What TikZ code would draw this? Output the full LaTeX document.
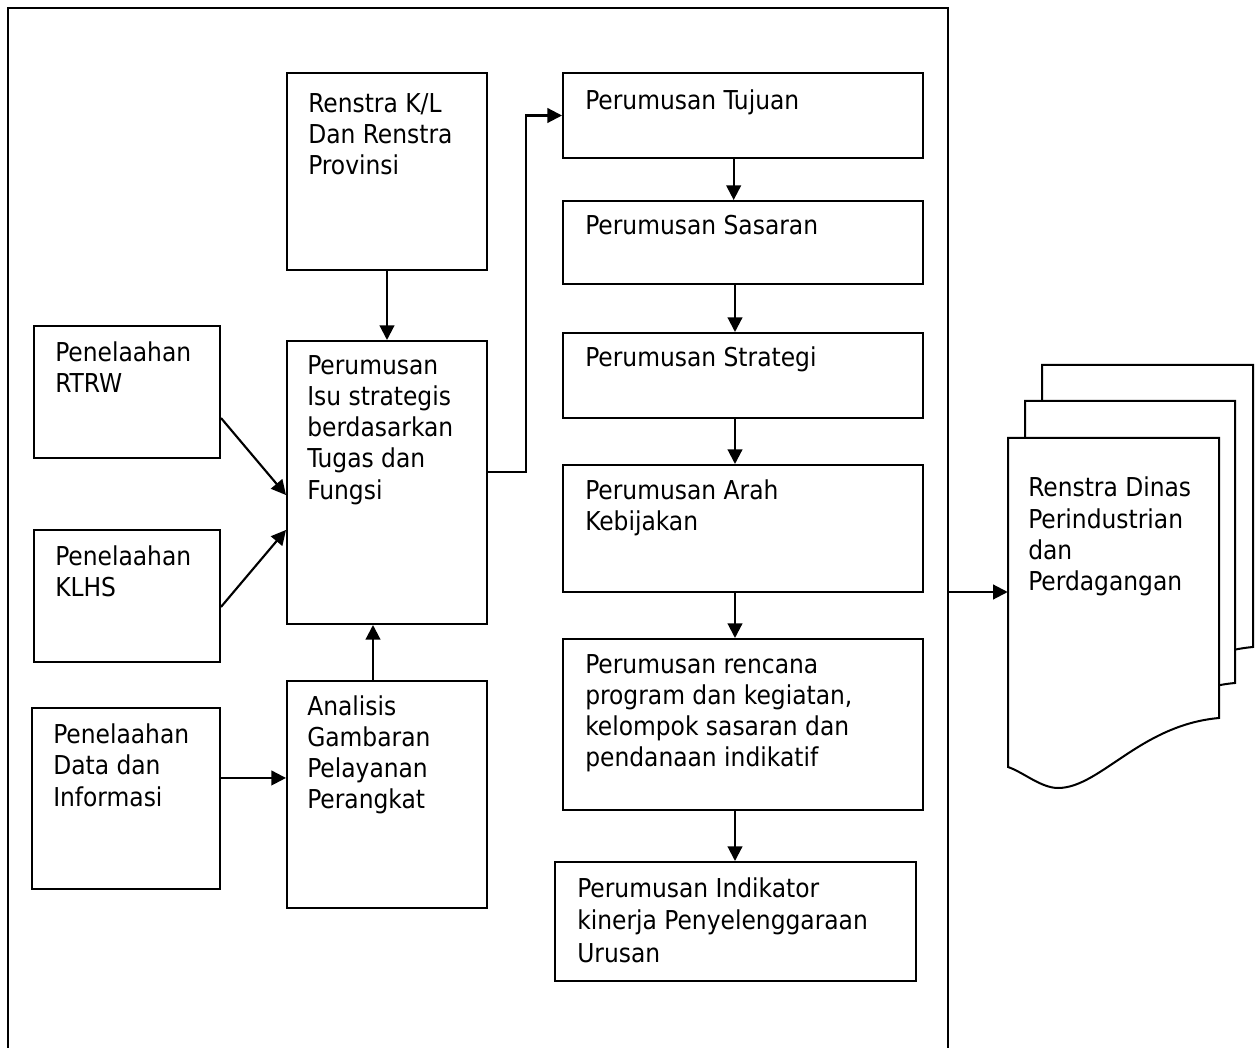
\documentclass[tikz,border=0pt]{standalone}
\usepackage{fontspec}
\setmainfont{DejaVu Sans Condensed}
\usetikzlibrary{arrows.meta,fit,calc}
\tikzset{
  box/.style={draw, line width=1.5pt, inner sep=0pt},
  txt/.style={inner sep=0pt, anchor=base west, font=\fontsize{19.5}{23}\selectfont},
  arr/.style={line width=1.6pt, -{Triangle[length=11pt,width=11pt]}},
  frame/.style={line width=1.6pt},
  docst/.style={draw, fill=white, line width=1.5pt, line join=miter},
}
\newcommand\boxtext[5]{\foreach \t [count=\i] in {#5} {\node[txt] (#1-\i) at ({#2},{#3+(\i-1)*#4}) {\t};}}
\newcommand\docshape[4]{%
  \filldraw[docst] (#1,#2) -- (#3,#2) -- (#3,#4)
    .. controls ({#3-79},{#4+7}) and ({#1+92},{#4+70}) .. ({#1+50},{#4+70})
    .. controls ({#1+33},{#4+70}) and ({#1+15},{#4+54}) .. (#1,{#4+49}) -- cycle;}
\begin{document}
\begin{tikzpicture}[x=0.75pt,y=-0.75pt]
\useasboundingbox (0,0) rectangle (1257,1048);
% outer frame (open at bottom)
\draw[frame] (8,1048) -- (8,8) -- (948,8) -- (948,1048);
\coordinate (fr) at (948,592);

% left column boxes
\node[box, fit={(287,73) (487,270)}] (kl) {};
\node[box, fit={(287,341) (487,624)}] (isu) {};
\node[box, fit={(287,681) (487,908)}] (ana) {};
\node[box, fit={(34,326) (220,458)}] (rtrw) {};
\node[box, fit={(34,530) (220,662)}] (klhs) {};
\node[box, fit={(32,708) (220,889)}] (data) {};

% middle column boxes
\node[box, fit={(563,73) (923,158)}] (tuj) {};
\node[box, fit={(563,201) (923,284)}] (sas) {};
\node[box, fit={(563,333) (923,418)}] (str) {};
\node[box, fit={(563,465) (923,592)}] (arah) {};
\node[box, fit={(563,639) (923,810)}] (ren) {};
\node[box, fit={(555,862) (916,981)}] (ind) {};

% texts
\boxtext{klt}{308}{113}{31}{{Renstra K/L},{Dan Renstra},{Provinsi}}
\boxtext{isut}{307}{375}{31}{{Perumusan},{Isu strategis},{berdasarkan},{Tugas dan},{Fungsi}}
\boxtext{anat}{307}{715}{31}{{Analisis},{Gambaran},{Pelayanan},{Perangkat}}
\boxtext{rtrwt}{55}{362}{31}{{Penelaahan},{RTRW}}
\boxtext{klhst}{55}{565}{31}{{Penelaahan},{KLHS}}
\boxtext{datat}{53}{743}{31.5}{{Penelaahan},{Data dan},{Informasi}}
\boxtext{tujt}{585}{110}{31}{{Perumusan Tujuan}}
\boxtext{sast}{585}{235}{31}{{Perumusan Sasaran}}
\boxtext{strt}{585}{367}{31}{{Perumusan Strategi}}
\boxtext{araht}{585}{499}{31}{{Perumusan Arah},{Kebijakan}}
\boxtext{rent}{585}{673}{31}{{Perumusan rencana},{program dan kegiatan,},{kelompok sasaran dan},{pendanaan indikatif}}
\boxtext{indt}{577}{897}{32.5}{{Perumusan Indikator},{kinerja Penyelenggaraan},{Urusan}}

% document stack
\docshape{1042}{365}{1253}{647}
\docshape{1025}{401}{1235}{683}
\docshape{1008}{438}{1219}{718}
\node[inner sep=0pt, fit={(1008,438) (1219,767)}] (doc) {};
\boxtext{doct}{1028}{497}{31}{{Renstra Dinas},{Perindustrian},{dan},{Perdagangan}}

% connectors
\coordinate (ax) at (373,0);
\draw[arr] (kl.south) -- (isu.north);
\draw[arr] (ana.north -| ax) -- (isu.south -| ax);
\draw[arr] ([yshift=-19.5pt]rtrw.east) -- ([yshift=-9.4pt]isu.west);
\draw[arr] ([yshift=-8.2pt]klhs.east) -- ([yshift=-35.6pt]isu.west);
\draw[arr] ([yshift=15.4pt]data.east) -- ([yshift=15.4pt]data.east -| ana.west);
\draw[arr] ([yshift=7.9pt]isu.east) -- ++(28.5pt,0) |- (tuj.west);
\draw[arr] ([xshift=-7pt]tuj.south) -- ([xshift=-7pt]sas.north);
\draw[arr] ([xshift=-6pt]sas.south) -- ([xshift=-6pt]str.north);
\draw[arr] ([xshift=-6pt]str.south) -- ([xshift=-6pt]arah.north);
\draw[arr] ([xshift=-6pt]arah.south) -- ([xshift=-6pt]ren.north);
\draw[arr] ([xshift=-6pt]ren.south) -- ([xshift=-6pt]ren.south |- ind.north);
\draw[arr] (fr) -- (fr -| doc.west);
\end{tikzpicture}
\end{document}
